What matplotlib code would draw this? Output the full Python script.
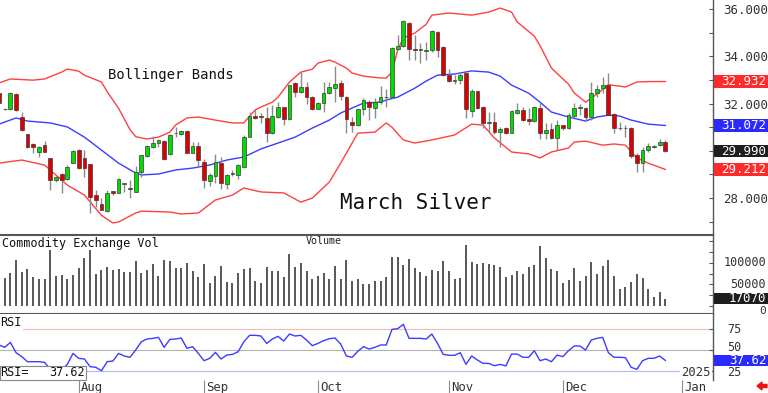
import numpy as np
import pandas as pd
import matplotlib
matplotlib.use("Agg")
import matplotlib.pyplot as plt
from matplotlib.patches import Rectangle, FancyArrow
from matplotlib.transforms import blended_transform_factory as btf, offset_copy
from matplotlib.ticker import FixedLocator, FuncFormatter

plt.rcParams['font.family'] = ['DejaVu Sans Mono', 'DejaVu Sans']

# ---------------- data (March Silver, daily) ----------------
opens = [32.46, 31.75, 31.75, 32.39, 31.44, 30.71, 30.27, 29.96, 30.25, 29.68,
         28.77, 29.02, 28.79, 29.50, 30.03, 29.68, 29.44, 28.13, 27.75, 27.47,
         28.28, 28.23, 28.60, 28.44, 28.27, 29.12, 29.78, 30.15, 30.34, 30.43,
         29.86, 30.77, 30.71, 30.85, 29.92, 30.20, 29.54, 28.74, 28.93, 29.50,
         28.60, 29.00, 28.98, 29.33, 30.60, 31.47, 31.46, 31.39, 30.75, 31.43,
         31.85, 31.35, 32.86, 32.48, 32.70, 32.28, 31.77, 32.02, 32.44, 32.66,
         32.86, 32.28, 31.23, 31.09, 31.75, 32.08, 31.80, 32.08, 32.28, 32.26,
         34.30, 34.43, 35.42, 34.30, 34.26, 34.24, 34.26, 35.03, 34.40, 33.20,
         32.94, 33.00, 33.28, 31.68, 32.53, 31.85, 31.17, 31.22, 30.80, 30.96,
         30.75, 31.60, 31.73, 31.35, 31.26, 31.81, 30.75, 30.92, 30.54, 31.09,
         30.96, 31.47, 31.80, 31.81, 31.43, 32.44, 32.65, 32.78, 31.56, 30.98,
         30.98, 30.96, 29.82, 29.48, 30.03, 30.15, 30.26, 30.37]
highs = [32.50, 31.80, 32.47, 32.43, 31.63, 30.73, 30.32, 30.20, 30.43, 29.70,
         28.93, 29.05, 29.40, 30.05, 30.06, 30.03, 29.44, 28.34, 28.00, 28.34,
         28.32, 28.85, 28.66, 28.77, 29.36, 29.84, 30.25, 30.63, 30.52, 30.46,
         30.70, 30.99, 30.90, 30.90, 30.39, 30.39, 29.64, 29.08, 29.86, 29.75,
         29.00, 29.19, 29.45, 30.65, 31.65, 31.75, 31.60, 31.85, 31.93, 32.08,
         31.87, 32.80, 32.92, 33.35, 32.92, 32.30, 32.06, 32.92, 32.92, 33.58,
         32.99, 32.30, 31.42, 31.77, 32.22, 32.15, 32.22, 32.74, 32.60, 34.40,
         34.90, 35.53, 35.45, 34.90, 34.57, 34.60, 35.12, 35.08, 34.42, 33.45,
         33.20, 33.35, 33.35, 32.60, 32.55, 31.88, 31.64, 31.65, 31.00, 31.02,
         31.73, 32.03, 31.86, 31.83, 31.90, 32.02, 31.17, 31.17, 31.30, 31.09,
         31.60, 32.03, 32.00, 31.86, 32.90, 32.78, 33.12, 33.30, 31.60, 31.20,
         31.09, 31.00, 29.90, 30.18, 30.33, 30.25, 30.50, 30.46]
lows = [31.98, 31.74, 31.73, 31.70, 30.85, 30.13, 29.92, 29.75, 29.93, 28.34,
        28.70, 28.23, 28.75, 29.47, 29.23, 28.88, 27.35, 27.64, 27.48, 27.40,
        28.13, 28.20, 28.27, 27.99, 28.25, 28.88, 29.76, 30.13, 30.17, 29.62,
        29.84, 30.57, 30.65, 29.90, 29.89, 29.36, 28.41, 28.51, 28.64, 28.37,
        28.37, 28.95, 28.80, 29.26, 30.58, 31.33, 31.17, 30.37, 30.70, 31.40,
        31.10, 31.30, 32.28, 32.45, 32.00, 31.72, 31.75, 31.65, 32.40, 32.08,
        32.15, 30.75, 30.80, 31.05, 31.50, 31.30, 31.37, 32.00, 31.86, 32.24,
        34.26, 34.40, 33.84, 33.84, 33.70, 33.84, 34.20, 33.98, 33.17, 32.90,
        32.82, 32.82, 31.37, 31.43, 31.78, 30.96, 30.80, 30.71, 30.16, 30.71,
        30.74, 31.56, 31.27, 31.09, 31.23, 30.50, 30.50, 30.50, 30.03, 30.88,
        30.92, 31.44, 31.50, 31.30, 31.30, 32.28, 32.44, 31.50, 30.75, 30.88,
        30.58, 29.70, 29.12, 29.12, 29.95, 30.10, 30.20, 29.94]
closes = [32.01, 31.78, 32.43, 31.73, 30.88, 30.15, 30.15, 30.15, 29.96, 28.77,
          28.88, 28.77, 29.33, 30.00, 29.26, 29.26, 28.06, 27.92, 27.50, 28.23,
          28.23, 28.80, 28.65, 28.40, 29.12, 29.82, 30.20, 30.32, 30.46, 29.64,
          30.67, 30.74, 30.85, 29.92, 30.20, 29.61, 28.77, 28.98, 29.54, 28.63,
          28.98, 29.07, 29.40, 30.60, 31.47, 31.38, 31.43, 30.75, 31.47, 31.85,
          31.35, 32.78, 32.48, 32.70, 32.28, 31.77, 32.02, 32.44, 32.70, 32.82,
          32.32, 31.35, 31.09, 31.75, 32.15, 31.86, 32.08, 32.26, 32.26, 34.33,
          34.43, 35.49, 34.29, 34.26, 34.29, 34.28, 35.08, 34.26, 33.20, 32.96,
          32.98, 33.20, 31.75, 32.53, 31.81, 31.17, 31.21, 30.80, 30.92, 30.75,
          31.68, 31.73, 31.30, 31.26, 31.85, 30.75, 30.88, 30.54, 31.09, 30.96,
          31.52, 31.81, 31.83, 31.43, 32.44, 32.60, 32.79, 31.52, 30.96, 30.95,
          30.95, 29.78, 29.48, 30.03, 30.20, 30.18, 30.37, 29.99]
volumes = [70000,
           66000, 77000, 107000, 78000, 86000, 68000, 62000, 62000, 130000, 70000,
           72000, 63000, 72000, 88000, 111000, 130000, 74000, 84000, 91000, 84000,
           85000, 80000, 78000, 105000, 76000, 84000, 98000, 70000, 107000, 105000,
           89000, 89000, 99000, 81000, 67000, 98000, 53000, 70000, 93000, 55000,
           54000, 76000, 85000, 89000, 57000, 54000, 91000, 82000, 81000, 68000,
           121000, 91000, 99000, 81000, 62000, 70000, 76000, 63000, 94000, 63000,
           106000, 59000, 62000, 51000, 51000, 58000, 57000, 68000, 113000, 115000,
           95000, 109000, 89000, 78000, 70000, 84000, 82000, 105000, 81000, 62000,
           64000, 142000, 102000, 98000, 99000, 97000, 95000, 91000, 67000, 71000,
           81000, 74000, 91000, 95000, 140000, 111000, 86000, 82000, 54000, 60000,
           88000, 57000, 70000, 102000, 74000, 94000, 107000, 70000, 40000, 45000,
           55000, 74000, 64000, 39000, 20000, 32000, 17070]
rsi = [56.0, 53.2, 59.1, 46.8, 42.1, 36.1, 36.1, 36.1, 35.3, 27.0,
       28.0, 26.0, 33.0, 46.0, 40.1, 39.3, 30.2, 29.4, 25.4, 36.1,
       36.9, 46.0, 42.9, 41.3, 50.0, 59.9, 63.1, 63.9, 65.1, 53.2,
       62.7, 63.1, 64.3, 52.0, 54.0, 46.0, 37.3, 40.1, 47.2, 39.3,
       44.0, 44.8, 48.0, 59.9, 67.5, 67.5, 66.7, 57.9, 63.1, 66.3,
       60.7, 69.0, 66.7, 67.5, 61.9, 55.2, 57.9, 61.1, 63.5, 64.3,
       57.1, 42.9, 41.3, 48.4, 54.0, 51.2, 53.2, 56.0, 56.0, 74.6,
       75.4, 80.6, 63.9, 63.9, 63.9, 63.1, 69.0, 57.9, 44.8, 43.7,
       43.7, 46.8, 32.9, 42.9, 38.1, 34.1, 34.1, 31.3, 32.9, 31.0,
       45.2, 45.2, 41.3, 41.3, 49.2, 37.3, 39.3, 36.1, 44.0, 42.1,
       49.2, 54.8, 54.8, 50.0, 61.9, 63.9, 65.1, 46.8, 41.3, 41.3,
       40.9, 29.4, 27.0, 37.3, 40.1, 40.1, 42.9, 37.62]

upper_idx = [0, 2, 6, 8, 11, 12, 14, 15, 18, 19, 21, 23, 24, 26, 28, 30, 31, 33, 35, 38,
             41, 43, 44, 45, 46, 48, 49, 51, 53, 55, 56, 58, 59, 61, 62, 64, 67, 68, 69, 70,
             71, 73, 75, 76, 79, 83, 86, 88, 90, 91, 94, 95, 97, 100, 101, 103, 105, 107, 110,
             112, 114, 117]
upper_val = [32.87, 33.04, 32.99, 33.04, 33.33, 33.46, 33.37, 33.20, 32.91, 32.50,
             31.80, 30.90, 30.60, 30.50, 30.58, 30.79, 31.09, 31.39, 31.43, 31.30,
             31.18, 31.18, 31.47, 31.73, 31.85, 32.06, 32.27, 32.91, 33.33, 33.45,
             33.71, 33.84, 33.75, 33.50, 33.29, 33.16, 33.08, 33.08, 33.33, 34.26,
             34.77, 34.98, 35.35, 35.74, 35.83, 35.74, 35.87, 36.04, 35.87, 35.45,
             34.85, 34.45, 33.50, 32.82, 32.45, 32.06, 32.40, 32.80, 32.70,
             32.91, 32.93, 32.932]
mid_idx = [0, 3, 5, 9, 12, 15, 18, 21, 24, 25, 28, 31, 34, 37, 40, 43, 46, 49, 52, 55,
           58, 60, 62, 64, 67, 68, 70, 73, 75, 77, 80, 83, 86, 88, 90, 93, 95, 97, 100,
           103, 105, 107, 109, 111, 114, 117]
mid_val = [31.13, 31.39, 31.26, 31.18, 31.01, 30.58, 30.03, 29.48, 29.06, 28.98,
           29.02, 29.19, 29.27, 29.40, 29.61, 29.74, 30.08, 30.33, 30.58, 30.96,
           31.30, 31.60, 31.81, 32.02, 32.06, 32.15, 32.27, 32.65, 32.95, 33.20,
           33.25, 33.38, 33.33, 33.16, 32.78, 32.44, 32.06, 31.64, 31.43,
           31.26, 31.43, 31.51, 31.47, 31.30, 31.13, 31.072]
lower_idx = [0, 4, 8, 12, 15, 18, 20, 21, 24, 25, 30, 32, 35, 38, 41, 43, 46, 50, 53, 55,
             58, 60, 62, 63, 66, 68, 69, 71, 73, 76, 80, 83, 85, 87, 90, 93, 95, 97, 100,
             101, 103, 106, 108, 110, 112, 114, 117]
lower_val = [29.48, 29.61, 29.40, 28.55, 28.13, 27.27, 26.95, 26.99, 27.37, 27.45,
             27.41, 27.33, 27.37, 27.92, 28.13, 28.43, 28.26, 28.22, 27.83, 28.00,
             28.68, 29.48, 30.33, 30.75, 30.79, 31.18, 31.00, 30.46, 30.33, 30.46,
             30.67, 31.13, 31.09, 30.54, 29.95, 29.87, 29.70, 29.95, 30.12,
             30.37, 30.41, 30.24, 30.29, 30.24, 29.70, 29.48, 29.212]

price_ticks = [28, 30, 32, 34, 36]
volume_ticks = [0, 50000, 100000]
rsi_ticks = [25, 50, 75]

holidays = ['2024-09-02', '2024-11-28', '2024-12-25', '2025-01-01']
days = pd.bdate_range('2024-07-12', '2025-01-10', freq='C', holidays=holidays)

# ---------------- layout ----------------
W, H = 768, 393
fig = plt.figure(figsize=(W / 100, H / 100), dpi=100)
fig.patch.set_facecolor('white')
RX = 713  # right axis pixel


def fax(top, bottom):
    return fig.add_axes([0, 1 - bottom / H, RX / W, (bottom - top) / H])


ax = fax(0, 235)
axv = fax(235, 314)
axr = fax(314, 380)

n = len(closes)
x = np.arange(n)
O = np.array(opens); C = np.array(closes); Hh = np.array(highs); L = np.array(lows)
XL = (0.18, 125.37)
for a in (ax, axv, axr):
    a.set_xlim(*XL)
    a.set_facecolor('white')
    for s in ('left', 'top', 'bottom'):
        a.spines[s].set_visible(False)
    a.spines['right'].set_color('#555555')
    a.spines['right'].set_linewidth(1.0)
    a.yaxis.tick_right()
    a.tick_params(axis='x', bottom=False, labelbottom=False)

axv.spines['top'].set_visible(True)
axv.spines['bottom'].set_visible(True)
for s in ('top', 'bottom'):
    axv.spines[s].set_color('#555555')
    axv.spines[s].set_linewidth(1.5)

txtc = '#333333'

# ---------------- price panel ----------------
ax.set_ylim(26.44, 36.38)
ax.vlines(x, L, Hh, color='#8a8a8a', lw=1.0, zorder=2)
up = C >= O
cols = np.where(up, '#00dd00', '#dd0000')
body_b = np.minimum(O, C)
body_h = np.maximum(np.abs(C - O), 0.035)
ax.bar(x, body_h, bottom=body_b, width=0.66, color=cols, edgecolor='#3a3a3a',
       linewidth=0.5, zorder=3)
ax.plot(upper_idx, upper_val, color='#ff4040', lw=1.0, zorder=1)
ax.plot(lower_idx, lower_val, color='#ff4040', lw=1.0, zorder=1)
ax.plot(mid_idx, mid_val, color='#3c3cff', lw=1.0, zorder=1)

ax.yaxis.set_major_locator(FixedLocator(price_ticks))
ax.yaxis.set_minor_locator(FixedLocator([27, 29, 31, 33, 35]))
ax.yaxis.set_major_formatter(FuncFormatter(lambda v, p: f'{v:.3f}'))
ax.tick_params(axis='y', which='both', direction='in', length=3, width=0.8,
               color='#555555', labelsize=9, labelcolor=txtc, pad=7)

# ---------------- volume panel ----------------
axv.set_ylim(-18600, 165000)
axv.vlines(x, 0, volumes, color='#2a2a2a', lw=1.1)
axv.yaxis.set_major_locator(FixedLocator(volume_ticks))
axv.yaxis.set_minor_locator(FixedLocator([25000, 75000, 125000, 150000]))
axv.tick_params(axis='y', which='both', direction='in', length=3, width=0.8,
                color='#555555', labelright=False)
tv = btf(axv.transAxes, axv.transData)
for v in volume_ticks:
    t = tv if v != 0 else offset_copy(tv, fig=fig, y=-5.5, units='dots')
    axv.text((W - 2) / RX, v, f'{v}', transform=t, ha='right', va='center',
             fontsize=8.5 if v else 8, color=txtc, clip_on=False)

# ---------------- RSI panel ----------------
axr.set_ylim(14.3, 92.9)
axr.axhline(75, color='#ffb4b4', lw=0.8, zorder=1)
axr.axhline(50, color='#b4b4b4', lw=0.8, zorder=1)
axr.axhline(25, color='#b4b4ff', lw=0.8, zorder=1)
axr.plot(x, rsi, color='#3c3cff', lw=1.0, zorder=2)
axr.yaxis.set_major_locator(FixedLocator(rsi_ticks))
axr.tick_params(axis='y', which='both', direction='in', length=3, width=0.8,
                color='#555555', labelright=False)
trr = btf(axr.transAxes, axr.transData)
for v in rsi_ticks:
    dy = {75: 0, 50: 2.5, 25: -1}[v]
    axr.text(727.5 / RX, v, f'{v}', transform=offset_copy(trr, fig=fig, y=dy, units='dots'),
             ha='left', va='center', fontsize=8.5, color=txtc, clip_on=False)

# month ticks below RSI panel
month_idx = [i for i in range(1, len(days)) if days[i].month != days[i - 1].month]
month_lab = [days[i].strftime('%b') for i in month_idx]
axr.set_xticks(month_idx)
axr.tick_params(axis='x', bottom=True, direction='out', length=9.5, width=0.8,
                color='#8a8a8a', labelbottom=False)
tr = btf(axr.transData, fig.transFigure)
for i, lab in zip(month_idx, month_lab):
    axr.text(i + 0.35, 1 - 387.5 / H, lab, transform=tr, ha='left', va='center',
             fontsize=8.8, color=txtc, clip_on=False)

# ---------------- value boxes on the right axis ----------------
def value_box(a, val, text, fc, hpx=12.5):
    y0, y1 = a.get_ylim()
    ah = a.get_position().height * H
    hd = hpx / (ah / (y1 - y0))
    t = btf(a.transAxes, a.transData)
    a.add_patch(Rectangle((1.002, val - hd / 2), (W - RX) / RX, hd, transform=t,
                          facecolor=fc, edgecolor='none', clip_on=False, zorder=6))
    a.text((W - 1.5) / RX, val, text, transform=t, ha='right', va='center',
           fontsize=9, color='white', zorder=7, clip_on=False)


value_box(ax, upper_val[-1], f'{upper_val[-1]:.3f}', '#ff2a2a')
value_box(ax, mid_val[-1], f'{mid_val[-1]:.3f}', '#2a2aff')
value_box(ax, closes[-1], f'{closes[-1]:.3f}', '#1e1e1e')
value_box(ax, lower_val[-1], f'{lower_val[-1]:.3f}', '#ff2a2a')
value_box(axv, volumes[-1], f'{volumes[-1]}', '#1e1e1e', hpx=11)
value_box(axr, rsi[-1], f'{rsi[-1]:.2f}', '#2a2aff', hpx=11)

# ---------------- texts ----------------
def ftext(px, py, s, **kw):
    return fig.text(px / W, 1 - py / H, s, **kw)


ftext(108, 75, 'Bollinger Bands', fontsize=10, color='#111111', va='center')
ftext(340, 203, 'March Silver', fontsize=15, color='#111111', va='center')
ftext(2, 243, 'Commodity Exchange Vol', fontsize=8.5, color='#111111', va='center')
ftext(306, 241, 'Volume', fontsize=7.2, color='#222222', va='center')
ftext(0, 322.5, 'RSI', fontsize=8.5, color='#111111', va='center',
      bbox=dict(boxstyle='square,pad=0.1', fc='white', ec='none'))
fig.patches.append(Rectangle((0, 1 - 380 / H), 86 / W, 14 / H, transform=fig.transFigure,
                             facecolor='white', edgecolor='#888888', lw=0.8, zorder=5))
ftext(0.5, 373, 'RSI=', fontsize=8.5, color='#111111', va='center', zorder=6)
ftext(84.5, 373, f'{rsi[-1]:.2f}', fontsize=8.5, color='#111111', va='center',
      ha='right', zorder=6)
ftext(711, 372.5, str(days[month_idx[-1]].year), fontsize=8.8, color=txtc, va='center',
      ha='right', bbox=dict(boxstyle='square,pad=0.1', fc='white', ec='none'))

fig.patches.append(FancyArrow(767 / W, 1 - 386 / H, -10 / W, 0, width=3 / H,
                              head_width=8 / H, head_length=5 / W,
                              length_includes_head=True, transform=fig.transFigure,
                              color='#ee1111', zorder=6))

fig.savefig('out.png', dpi=100)
